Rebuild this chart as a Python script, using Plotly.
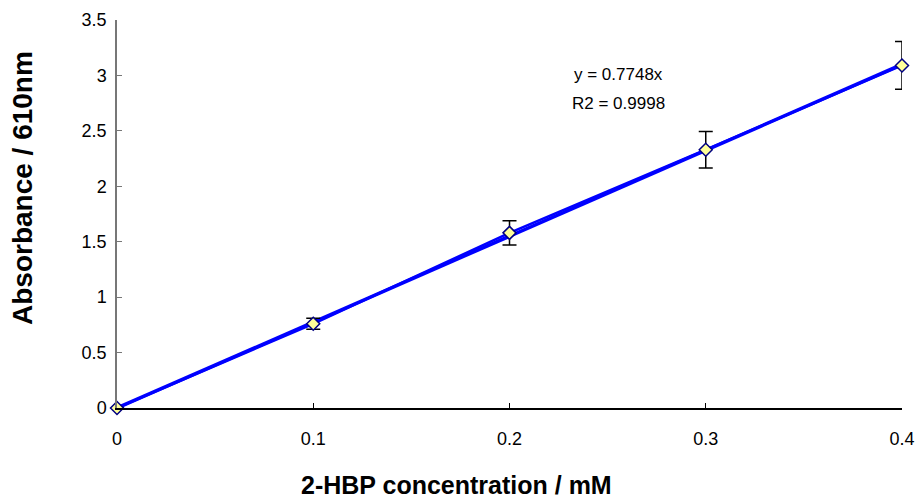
import plotly.graph_objects as go

conc = [0, 0.1, 0.2, 0.3, 0.4]
absorb = [0.0, 0.76, 1.58, 2.33, 3.09]
err = [0.0, 0.05, 0.11, 0.165, 0.215]
slope = 0.7748  # fitted on point index (x = 0..4 in steps of 0.1 mM)
trend_x = [0, 0.4]
trend_y = [slope * v * 10 for v in trend_x]
x_ticks = [0, 0.1, 0.2, 0.3, 0.4]
y_ticks = [0, 0.5, 1, 1.5, 2, 2.5, 3, 3.5]
eq_text = "y = 0.7748x"
r2_text = "R2 = 0.9998"

FONT = "Liberation Sans, Arial, sans-serif"

fig = go.Figure()
fig.add_trace(go.Scatter(x=trend_x, y=trend_y, mode="lines",
                         line=dict(color="#0000FF", width=3.5), showlegend=False))
fig.add_trace(go.Scatter(x=conc, y=absorb, mode="lines+markers",
                         line=dict(color="#0000FF", width=2.5),
                         marker=dict(symbol="diamond", size=10, color="#FFFF99",
                                     line=dict(color="#000080", width=1.5)),
                         error_y=dict(type="data", array=err, visible=True,
                                      color="black", thickness=1.5, width=7),
                         showlegend=False, cliponaxis=False))

fig.add_annotation(x=0.2318, y=3.004, xref="x", yref="y", text=eq_text,
                   showarrow=False, xanchor="left", yanchor="middle",
                   font=dict(family=FONT, size=17, color="black"))
fig.add_annotation(x=0.2308, y=2.751, xref="x", yref="y", text=r2_text,
                   showarrow=False, xanchor="left", yanchor="middle",
                   font=dict(family=FONT, size=17, color="black"))

# axis titles
fig.add_annotation(x=0.432, y=-0.198, xref="paper", yref="paper",
                   text="<b>2-HBP concentration / mM</b>", showarrow=False,
                   xanchor="center", yanchor="middle",
                   font=dict(family=FONT, size=25, color="black"))
fig.add_annotation(x=-0.121, y=0.567, xref="paper", yref="paper",
                   text="<b>Absorbance / 610nm</b>", showarrow=False, textangle=-90,
                   xanchor="center", yanchor="middle",
                   font=dict(family=FONT, size=28, color="black"))

fig.update_layout(
    width=919, height=501,
    margin=dict(l=117, r=17, t=20, b=93),
    plot_bgcolor="white", paper_bgcolor="white",
    font=dict(family=FONT, size=18, color="black"),
    xaxis=dict(range=[0, 0.4], tickvals=x_ticks, ticktext=[str(v) for v in x_ticks],
               showgrid=False, zeroline=False, showline=True, linecolor="black",
               linewidth=1.5, ticks="inside", ticklen=5, tickcolor="black",
               automargin=False, ticklabelstandoff=14),
    yaxis=dict(range=[0, 3.5], tickvals=y_ticks, ticktext=[str(v) for v in y_ticks],
               showgrid=False, zeroline=False, showline=True, linecolor="#777777",
               linewidth=1.5, ticks="inside", ticklen=5, tickcolor="#777777",
               automargin=False, ticklabelstandoff=5),
)
fig.write_html("out.html", config={"displayModeBar": False})

with open("out.html", "r", encoding="utf-8") as f:
    html = f.read()
html = html.replace("<head>", "<head><style>html,body{margin:0;padding:0;overflow:hidden;}</style>", 1)
with open("out.html", "w", encoding="utf-8") as f:
    f.write(html)
